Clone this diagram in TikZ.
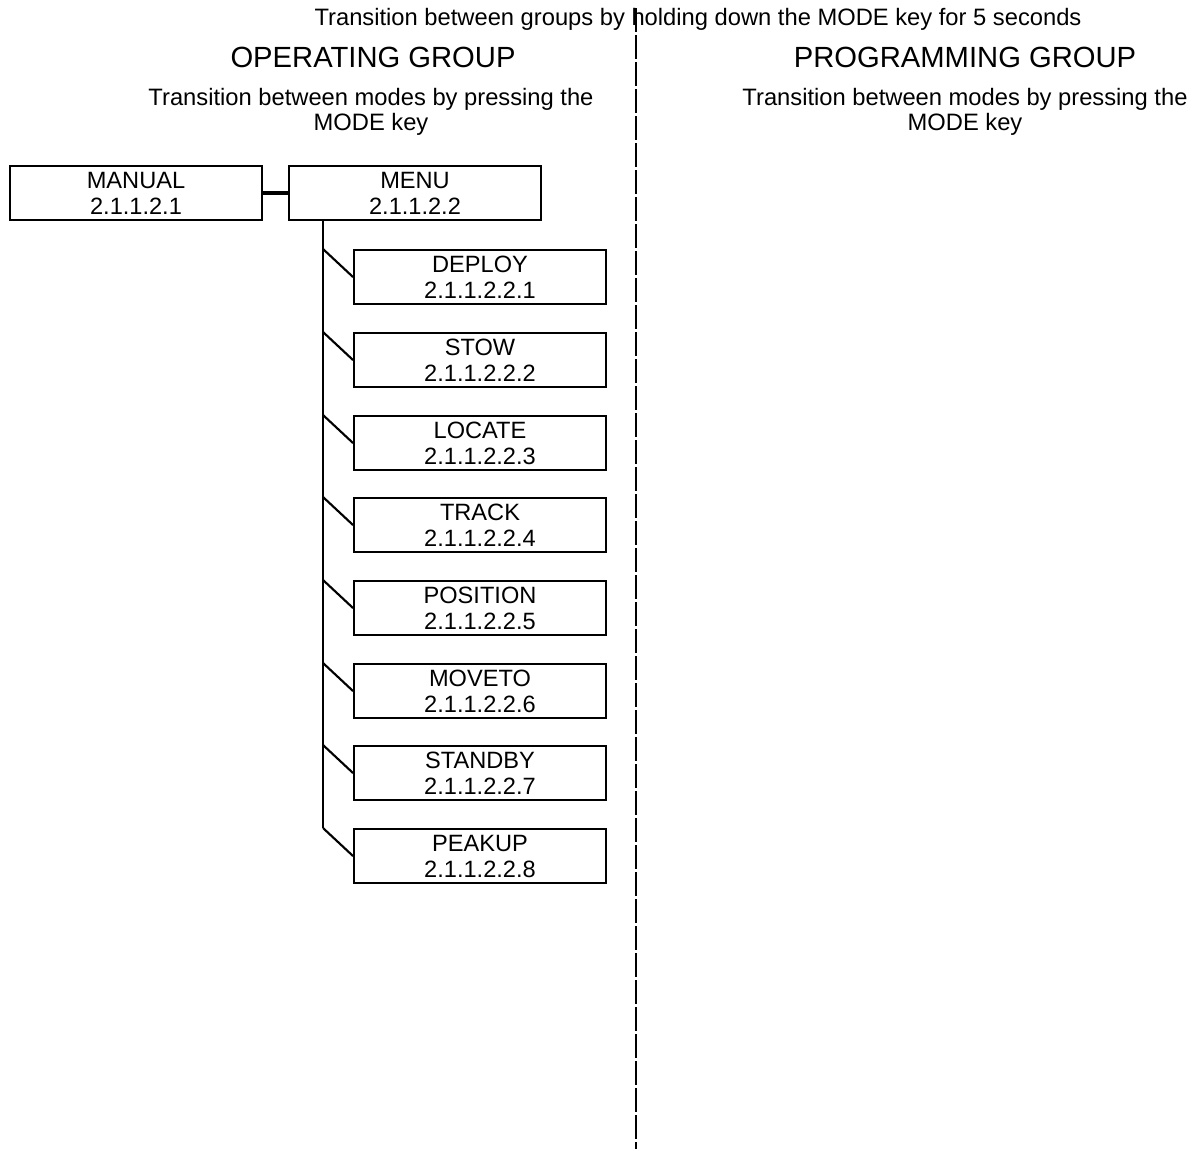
\documentclass[tikz,border=0pt]{standalone}
\usepackage{fontspec}
\setmainfont{Liberation Sans}
\usetikzlibrary{calc}
\tikzset{
  modebox/.style={draw, line width=1.5pt, minimum width=189pt, minimum height=40.5pt, inner sep=0pt, align=center, font=\fontsize{17.7}{19.5}\selectfont},
  bodytext/.style={align=center, inner sep=0pt, font=\fontsize{17.8}{19}\selectfont},
  headtext/.style={inner sep=0pt, font=\fontsize{21.9}{24}\selectfont},
  link/.style={line width=1.6pt},
  thicklink/.style={line width=2.3pt},
  divider/.style={line width=1.2pt, dash pattern=on 18pt off 2.25pt}
}
\begin{document}
\begin{tikzpicture}[x=0.75pt,y=-0.75pt]
\useasboundingbox (0,0) rectangle (1202,1149);
% divider
\coordinate (dtop) at (636,8);
\coordinate (dbot) at (636,1149);
\draw[divider] (dtop) -- (dbot);
% headings
\node[bodytext] (groups) at (698,19) {Transition between groups by holding down the MODE key for 5 seconds};
\node[headtext] (opg) at (373,57) {OPERATING GROUP};
\node[headtext] (prg) at (965,57) {PROGRAMMING GROUP};
\node[bodytext] (opt) at (371,112) {Transition between modes by pressing the\\MODE key};
\node[bodytext] (prt) at (965,112) {Transition between modes by pressing the\\MODE key};
% boxes
\node[modebox] (manual) at (136,193) {MANUAL\\2.1.1.2.1};
\node[modebox] (menu) at (415,193) {MENU\\2.1.1.2.2};
\draw[thicklink] (manual.east) -- (menu.west);
\node[modebox] (c1) at (480,277) {DEPLOY\\2.1.1.2.2.1};
\node[modebox] (c2) at (480,360) {STOW\\2.1.1.2.2.2};
\node[modebox] (c3) at (480,443) {LOCATE\\2.1.1.2.2.3};
\node[modebox] (c4) at (480,525) {TRACK\\2.1.1.2.2.4};
\node[modebox] (c5) at (480,608) {POSITION\\2.1.1.2.2.5};
\node[modebox] (c6) at (480,691) {MOVETO\\2.1.1.2.2.6};
\node[modebox] (c7) at (480,773) {STANDBY\\2.1.1.2.2.7};
\node[modebox] (c8) at (480,856) {PEAKUP\\2.1.1.2.2.8};
\coordinate (trunk) at ($(menu.south west)+(35,0)$);
\draw[link] (trunk) -- (trunk |- c8.north west);
\foreach \c in {c1,c2,c3,c4,c5,c6,c7,c8}{
  \draw[link] (trunk |- \c.north west) -- (\c.west);
}
\end{tikzpicture}
\end{document}
